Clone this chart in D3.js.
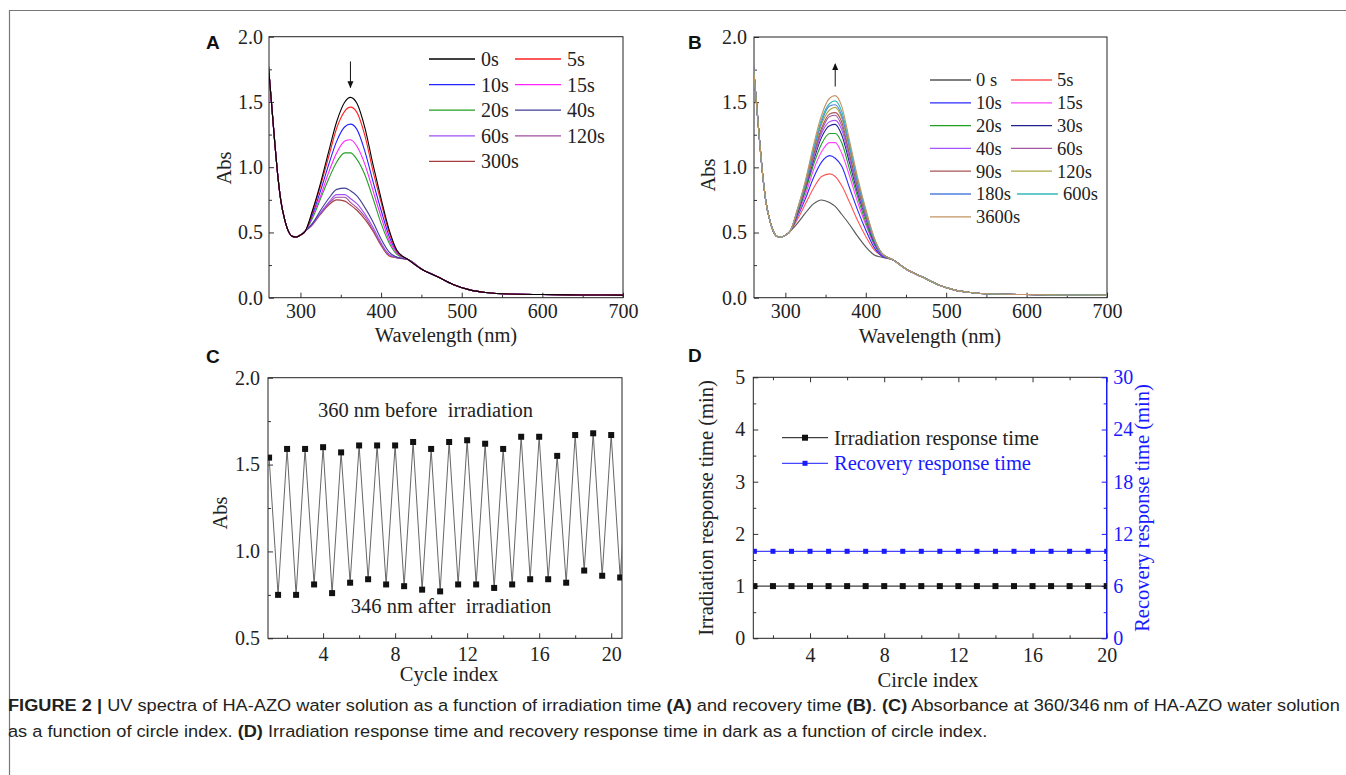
<!DOCTYPE html>
<html>
<head>
<meta charset="utf-8">
<script src="https://cdn.jsdelivr.net/npm/d3@7"></script>
<style>
body { margin: 0; background: #fff; }
svg { display: block; }
svg text { font-family: 'Liberation Serif', 'Times New Roman', serif; }
svg text.sans { font-family: 'Liberation Sans', Arial, sans-serif; }
</style>
</head>
<body>
<script>
// ---- data ----

// UV spectra: below 306 nm and above 434 nm all the curves sit on top of each other
var waveEdge = [260, 264, 268, 272, 276, 280, 285, 290, 295, 300, 306];
var absEdge  = [1.80, 1.50, 1.20, 0.93, 0.73, 0.61, 0.51, 0.47, 0.465, 0.48, 0.51];
var waveMid  = [315, 325, 335, 345, 355, 362, 370, 380, 390, 400, 410, 420];
var waveTail = [434, 450, 470, 490, 510, 530, 560, 600, 650, 700];
var absTail  = [0.29, 0.22, 0.16, 0.10, 0.06, 0.04, 0.028, 0.024, 0.021, 0.02];

// (A) irradiation
var irrLabels = ["0s", "5s", "10s", "15s", "20s", "40s", "60s", "120s", "300s"];
var irrColors = ["#000000", "#ff2020", "#2323ff", "#ff22ff", "#22a022", "#3f3f96", "#a050f5", "#a04ca0", "#a33c3c"];
var irrAbs = [
    [0.67, 0.88, 1.12, 1.35, 1.50, 1.535, 1.49, 1.30, 1.02, 0.76, 0.52, 0.36],
    [0.66, 0.86, 1.08, 1.30, 1.43, 1.46, 1.42, 1.24, 0.97, 0.73, 0.50, 0.355],
    [0.64, 0.82, 1.02, 1.20, 1.31, 1.33, 1.29, 1.12, 0.89, 0.67, 0.47, 0.35],
    [0.63, 0.78, 0.96, 1.11, 1.20, 1.21, 1.16, 1.02, 0.82, 0.62, 0.44, 0.34],
    [0.61, 0.76, 0.91, 1.04, 1.11, 1.11, 1.06, 0.94, 0.76, 0.57, 0.42, 0.33],
    [0.57, 0.67, 0.76, 0.83, 0.84, 0.82, 0.78, 0.69, 0.58, 0.45, 0.35, 0.31],
    [0.57, 0.65, 0.73, 0.79, 0.79, 0.76, 0.72, 0.64, 0.54, 0.42, 0.33, 0.31],
    [0.56, 0.65, 0.72, 0.77, 0.77, 0.73, 0.69, 0.62, 0.52, 0.41, 0.33, 0.305],
    [0.56, 0.64, 0.71, 0.75, 0.74, 0.71, 0.67, 0.60, 0.51, 0.40, 0.32, 0.305]
];

// (B) recovery
var recLabels = ["0 s", "5s", "10s", "15s", "20s", "30s", "40s", "60s", "90s", "120s", "180s", "600s", "3600s"];
var recColors = ["#555555", "#ff5555", "#2a2aff", "#ff44ff", "#22a022", "#222290", "#a555ff", "#a455a4", "#a85555",
                 "#a8a845", "#4f80df", "#33b8b8", "#c49462"];
var recAbs = [
    [0.57, 0.65, 0.72, 0.75, 0.73, 0.70, 0.64, 0.56, 0.47, 0.39, 0.33, 0.31],
    [0.60, 0.72, 0.84, 0.93, 0.95, 0.93, 0.86, 0.73, 0.59, 0.47, 0.37, 0.32],
    [0.62, 0.76, 0.92, 1.04, 1.09, 1.07, 1.01, 0.84, 0.67, 0.52, 0.39, 0.32],
    [0.63, 0.79, 0.98, 1.12, 1.19, 1.19, 1.11, 0.93, 0.73, 0.56, 0.41, 0.33],
    [0.64, 0.82, 1.02, 1.18, 1.26, 1.26, 1.19, 0.98, 0.77, 0.58, 0.42, 0.33],
    [0.65, 0.84, 1.05, 1.23, 1.32, 1.33, 1.25, 1.03, 0.80, 0.61, 0.43, 0.33],
    [0.66, 0.85, 1.07, 1.26, 1.35, 1.36, 1.29, 1.06, 0.82, 0.62, 0.44, 0.33],
    [0.66, 0.86, 1.09, 1.28, 1.39, 1.40, 1.32, 1.09, 0.84, 0.63, 0.45, 0.34],
    [0.66, 0.86, 1.10, 1.30, 1.41, 1.42, 1.35, 1.10, 0.85, 0.64, 0.45, 0.34],
    [0.67, 0.87, 1.12, 1.33, 1.44, 1.46, 1.38, 1.13, 0.87, 0.65, 0.46, 0.34],
    [0.67, 0.88, 1.13, 1.35, 1.47, 1.48, 1.40, 1.15, 0.88, 0.66, 0.46, 0.34],
    [0.68, 0.89, 1.15, 1.37, 1.49, 1.51, 1.43, 1.17, 0.90, 0.67, 0.46, 0.34],
    [0.68, 0.90, 1.17, 1.40, 1.53, 1.55, 1.47, 1.20, 0.92, 0.68, 0.47, 0.34]
];

// (C) absorbance per cycle: 360 nm before (at n) and 346 nm after irradiation (at n + 0.5)
// the 21st high value is only seen as the line leaving the frame
var cycleHigh = [1.54, 1.59, 1.59, 1.60, 1.57, 1.61, 1.61, 1.61, 1.63, 1.59,
                 1.63, 1.64, 1.62, 1.59, 1.66, 1.66, 1.55, 1.67, 1.68, 1.67, 1.66];
var cycleLow  = [0.75, 0.75, 0.81, 0.76, 0.82, 0.84, 0.81, 0.80, 0.78, 0.77,
                 0.81, 0.81, 0.79, 0.81, 0.84, 0.84, 0.82, 0.89, 0.86, 0.85];

// (D) response times
var circleIdx = [1, 2, 3, 4, 5, 6, 7, 8, 9, 10, 11, 12, 13, 14, 15, 16, 17, 18, 19, 20];
var irrMin = [1, 1, 1, 1, 1, 1, 1, 1, 1, 1, 1, 1, 1, 1, 1, 1, 1, 1, 1, 1];
var recMin = [10, 10, 10, 10, 10, 10, 10, 10, 10, 10, 10, 10, 10, 10, 10, 10, 10, 10, 10, 10];

// ---- drawing ----
var serif = "'Liberation Serif', 'Times New Roman', serif";
var blue = "#1a1aff";
var fs = 20;   // size of most of the figure text

var svg = d3.select("body").append("svg")
    .attr("width", 1346)
    .attr("height", 775)
    .attr("font-family", serif);

svg.append("rect").attr("width", 1346).attr("height", 775).attr("fill", "#fff");
svg.append("path")
    .attr("d", "M9.5,800V10.5H1400")
    .attr("fill", "none")
    .attr("stroke", "#777")
    .attr("stroke-width", 1.2);

function styleAxis(g, color) {
    g.select(".domain").remove();
    g.attr("font-family", serif).attr("font-size", fs);
    g.selectAll(".tick line").attr("stroke", color || "#333");
    g.selectAll(".tick text")
        .attr("fill", color || "#222")
        .style("font-family", serif)
        .style("font-size", fs + "px");
}

// frame + inward Origin-style ticks
function drawAxes(g, x, y, o) {
    var bottom = y.range()[0], top = y.range()[1];
    var left = x.range()[0], right = x.range()[1];

    g.append("g").attr("transform", "translate(0," + bottom + ")")
        .call(d3.axisBottom(x).tickValues(o.xMinor).tickSize(-3).tickSizeOuter(0).tickFormat(""))
        .call(styleAxis);
    g.append("g").attr("transform", "translate(0," + bottom + ")")
        .call(d3.axisBottom(x).tickValues(o.xMajor).tickSize(-5).tickSizeOuter(0).tickPadding(o.xPad)
            .tickFormat(d3.format("d")))
        .call(styleAxis);
    g.append("g").attr("transform", "translate(" + left + ",0)")
        .call(d3.axisLeft(y).tickValues(o.yMinor).tickSize(-3).tickSizeOuter(0).tickFormat(""))
        .call(styleAxis);
    g.append("g").attr("transform", "translate(" + left + ",0)")
        .call(d3.axisLeft(y).tickValues(o.yMajor).tickSize(-5).tickSizeOuter(0).tickPadding(o.yPad)
            .tickFormat(d3.format(o.yFmt)))
        .call(styleAxis);

    if (o.topTicks) {
        g.append("g").attr("transform", "translate(0," + top + ")")
            .call(d3.axisTop(x).tickValues(o.xMinor).tickSize(-3).tickSizeOuter(0).tickFormat(""))
            .call(styleAxis);
        g.append("g").attr("transform", "translate(0," + top + ")")
            .call(d3.axisTop(x).tickValues(o.xMajor).tickSize(-5).tickSizeOuter(0).tickFormat(""))
            .call(styleAxis);
    }

    g.append("rect")
        .attr("x", left).attr("y", top)
        .attr("width", right - left).attr("height", bottom - top)
        .attr("fill", "none")
        .attr("stroke", "#222")
        .attr("stroke-width", 1);

    g.append("clipPath").attr("id", o.id)
        .append("rect")
        .attr("x", left).attr("y", top)
        .attr("width", right - left).attr("height", bottom - top);
}

function panelLabel(txt, x, y) {
    svg.append("text")
        .attr("class", "sans")
        .attr("x", x).attr("y", y)
        .attr("font-weight", "bold")
        .attr("font-size", 19)
        .attr("fill", "#111")
        .text(txt);
}

// for rotated titles (x, y) is the middle of the baseline
function axisTitle(txt, x, y, rotate, color) {
    var t = svg.append("text")
        .attr("font-size", 20.5)
        .attr("fill", color || "#222")
        .attr("text-anchor", "middle")
        .text(txt);
    if (rotate) {
        t.attr("transform", "translate(" + x + "," + y + ") rotate(-90)");
    } else {
        t.attr("x", x).attr("y", y);
    }
}

function spectrum(mid) {
    var pts = [];
    waveEdge.forEach(function(w, i) { pts.push([w, absEdge[i]]); });
    waveMid.forEach(function(w, i) { pts.push([w, mid[i]]); });
    waveTail.forEach(function(w, i) { pts.push([w, absTail[i]]); });
    return pts;
}

function arrowHead(g, x, y, dir) {
    // dir = 1 points down, -1 points up
    g.append("path")
        .attr("d", "M" + (x - 3) + "," + (y - dir * 7) + "L" + x + "," + y + "L" + (x + 3) + "," + (y - dir * 7) + "Z")
        .attr("fill", "#111");
}

// ---------- panel A ----------
var xA = d3.scaleLinear().domain([261, 700]).range([269, 623]);
var yA = d3.scaleLinear().domain([0, 2]).range([297.7, 36.7]);
var gA = svg.append("g");
drawAxes(gA, xA, yA, {
    id: "clipA", xPad: 6.5, yPad: 6,
    xMajor: [300, 400, 500, 600, 700], xMinor: [350, 450, 550, 650],
    yMajor: [0, 0.5, 1, 1.5, 2], yMinor: [0.25, 0.75, 1.25, 1.75], yFmt: ".1f"
});

var lineA = d3.line()
    .x(function(d) { return xA(d[0]); })
    .y(function(d) { return yA(d[1]); })
    .curve(d3.curveMonotoneX);

gA.append("g").attr("clip-path", "url(#clipA)")
    .selectAll("path")
    .data(irrAbs.slice().reverse())
    .enter()
    .append("path")
    .attr("d", function(d) { return lineA(spectrum(d)); })
    .attr("fill", "none")
    .attr("stroke", function(d, i) { return irrColors[irrColors.length - 1 - i]; })
    .attr("stroke-width", 1.1);

// arrow at the 362 nm peak
gA.append("line")
    .attr("x1", xA(362)).attr("x2", xA(362))
    .attr("y1", yA(1.81)).attr("y2", yA(1.61))
    .attr("stroke", "#111").attr("stroke-width", 1);
arrowHead(gA, xA(362), yA(1.605), 1);

// legend A (two columns)
irrLabels.forEach(function(lab, i) {
    var col = i % 2, row = Math.floor(i / 2);
    var yy = 59 + row * 25.6;
    var x0 = col ? 515 : 429;
    gA.append("line")
        .attr("x1", x0).attr("x2", x0 + 46)
        .attr("y1", yy).attr("y2", yy)
        .attr("stroke", irrColors[i]).attr("stroke-width", 1.3);
    gA.append("text")
        .attr("x", x0 + 52).attr("y", yy).attr("dy", "0.35em")
        .attr("font-size", fs).attr("fill", "#222")
        .text(lab);
});

panelLabel("A", 206, 49);
axisTitle("Wavelength (nm)", 446, 342);
axisTitle("Abs", 231, 168, true);

// ---------- panel B ----------
var xB = d3.scaleLinear().domain([261, 700]).range([754, 1107]);
var yB = d3.scaleLinear().domain([0, 2]).range([297.7, 37]);
var gB = svg.append("g");
drawAxes(gB, xB, yB, {
    id: "clipB", xPad: 6.5, yPad: 7,
    xMajor: [300, 400, 500, 600, 700], xMinor: [350, 450, 550, 650],
    yMajor: [0, 0.5, 1, 1.5, 2], yMinor: [0.25, 0.75, 1.25, 1.75], yFmt: ".1f"
});

var lineB = d3.line()
    .x(function(d) { return xB(d[0]); })
    .y(function(d) { return yB(d[1]); })
    .curve(d3.curveMonotoneX);

gB.append("g").attr("clip-path", "url(#clipB)")
    .selectAll("path")
    .data(recAbs)
    .enter()
    .append("path")
    .attr("d", function(d) { return lineB(spectrum(d)); })
    .attr("fill", "none")
    .attr("stroke", function(d, i) { return recColors[i]; })
    .attr("stroke-width", 1.1);

gB.append("line")
    .attr("x1", xB(362)).attr("x2", xB(362))
    .attr("y1", yB(1.62)).attr("y2", yB(1.79))
    .attr("stroke", "#111").attr("stroke-width", 1);
arrowHead(gB, xB(362), yB(1.80), -1);

// legend B, the second column starts after the first column's text
recLabels.forEach(function(lab, i) {
    var row = Math.floor(i / 2);
    var yy = 80 + row * 22.8;
    var x0 = 930;
    if (i % 2) {
        var prev = gB.select(".legB-" + (i - 1));
        var end = 976 + prev.node().getComputedTextLength();
        x0 = Math.max(1011, end + 6);
    }
    gB.append("line")
        .attr("x1", x0).attr("x2", x0 + 41)
        .attr("y1", yy).attr("y2", yy)
        .attr("stroke", recColors[i]).attr("stroke-width", 1.3);
    gB.append("text")
        .attr("class", "legB-" + i)
        .attr("x", x0 + 46).attr("y", yy).attr("dy", "0.35em")
        .attr("font-size", 18.5).attr("fill", "#222")
        .style("white-space", "pre")
        .text(lab);
});

panelLabel("B", 688, 48.5);
axisTitle("Wavelength (nm)", 930, 343);
axisTitle("Abs", 715, 175, true);

// ---------- panel C ----------
var xC = d3.scaleLinear().domain([0.94, 20.6]).range([268, 622]);
var yC = d3.scaleLinear().domain([0.5, 2]).range([638.3, 377.7]);
var gC = svg.append("g");
drawAxes(gC, xC, yC, {
    id: "clipC", xPad: 8.5, yPad: 8,
    xMajor: [4, 8, 12, 16, 20], xMinor: [2, 6, 10, 14, 18],
    yMajor: [0.5, 1, 1.5, 2], yMinor: [0.75, 1.25, 1.75], yFmt: ".1f"
});

var cyclePts = [];
cycleHigh.forEach(function(v, i) {
    cyclePts.push({ x: i + 1, v: v });
    if (i < cycleLow.length) cyclePts.push({ x: i + 1.5, v: cycleLow[i] });
});

var plotC = gC.append("g").attr("clip-path", "url(#clipC)");
plotC.append("path")
    .datum(cyclePts)
    .attr("d", d3.line()
        .x(function(d) { return xC(d.x); })
        .y(function(d) { return yC(d.v); }))
    .attr("fill", "none")
    .attr("stroke", "#666")
    .attr("stroke-width", 1);
plotC.selectAll("rect.pt")
    .data(cyclePts)
    .enter()
    .append("rect")
    .attr("class", "pt")
    .attr("x", function(d) { return xC(d.x) - 3; })
    .attr("y", function(d) { return yC(d.v) - 3; })
    .attr("width", 6).attr("height", 6)
    .attr("fill", "#111");

gC.append("text")
    .attr("x", 425.5).attr("y", 417)
    .attr("font-size", 20.5).attr("fill", "#222")
    .attr("text-anchor", "middle")
    .style("white-space", "pre")
    .text("360 nm before  irradiation");
gC.append("text")
    .attr("x", 451).attr("y", 613)
    .attr("font-size", 20.5).attr("fill", "#222")
    .attr("text-anchor", "middle")
    .style("white-space", "pre")
    .text("346 nm after  irradiation");

panelLabel("C", 206, 362.5);
axisTitle("Cycle index", 449, 681);
axisTitle("Abs", 226.5, 513, true);

// ---------- panel D ----------
var xD = d3.scaleLinear().domain([0.94, 20]).range([753.3, 1106.7]);
var yD = d3.scaleLinear().domain([0, 5]).range([638.3, 377.3]);
var yD2 = d3.scaleLinear().domain([0, 30]).range([638.3, 377.3]);
var gD = svg.append("g");
drawAxes(gD, xD, yD, {
    id: "clipD", topTicks: true, xPad: 10, yPad: 8,
    xMajor: [4, 8, 12, 16, 20], xMinor: [2, 6, 10, 14, 18],
    yMajor: [0, 1, 2, 3, 4, 5], yMinor: [0.5, 1.5, 2.5, 3.5, 4.5], yFmt: "d"
});

// right axis in blue
gD.append("g").attr("transform", "translate(" + xD.range()[1] + ",0)")
    .call(d3.axisRight(yD2).tickValues([3, 9, 15, 21, 27]).tickSize(-3).tickSizeOuter(0).tickFormat(""))
    .call(styleAxis, blue);
gD.append("g").attr("transform", "translate(" + xD.range()[1] + ",0)")
    .call(d3.axisRight(yD2).tickValues([0, 6, 12, 18, 24, 30]).tickSize(-5).tickSizeOuter(0).tickPadding(6.5))
    .call(styleAxis, blue);
gD.append("line")
    .attr("x1", xD.range()[1]).attr("x2", xD.range()[1])
    .attr("y1", yD2.range()[0]).attr("y2", yD2.range()[1])
    .attr("stroke", blue).attr("stroke-width", 1.3);

var plotD = gD.append("g").attr("clip-path", "url(#clipD)");
var lineIrr = d3.line()
    .x(function(d, i) { return xD(circleIdx[i]); })
    .y(function(d) { return yD(d); });
var lineRec = d3.line()
    .x(function(d, i) { return xD(circleIdx[i]); })
    .y(function(d) { return yD2(d); });

plotD.append("path").datum(recMin).attr("d", lineRec)
    .attr("fill", "none").attr("stroke", blue).attr("stroke-width", 1);
plotD.selectAll("rect.rec")
    .data(recMin).enter().append("rect").attr("class", "rec")
    .attr("x", function(d, i) { return xD(circleIdx[i]) - 2.5; })
    .attr("y", function(d) { return yD2(d) - 2.5; })
    .attr("width", 5).attr("height", 5)
    .attr("fill", blue);

plotD.append("path").datum(irrMin).attr("d", lineIrr)
    .attr("fill", "none").attr("stroke", "#111").attr("stroke-width", 1);
plotD.selectAll("rect.irr")
    .data(irrMin).enter().append("rect").attr("class", "irr")
    .attr("x", function(d, i) { return xD(circleIdx[i]) - 3; })
    .attr("y", function(d) { return yD(d) - 3; })
    .attr("width", 6).attr("height", 6)
    .attr("fill", "#111");

// legend D
var legD = [
    { label: "Irradiation response time", color: "#111", size: 6 },
    { label: "Recovery response time", color: blue, size: 5 }
];
legD.forEach(function(d, i) {
    var yy = 437.7 + i * 25.6;
    gD.append("line")
        .attr("x1", 782).attr("x2", 828)
        .attr("y1", yy).attr("y2", yy)
        .attr("stroke", d.color).attr("stroke-width", 1);
    gD.append("rect")
        .attr("x", 805 - d.size / 2).attr("y", yy - d.size / 2)
        .attr("width", d.size).attr("height", d.size)
        .attr("fill", d.color);
    gD.append("text")
        .attr("x", 834).attr("y", yy).attr("dy", "0.35em")
        .attr("font-size", 20.5).attr("fill", d.color === "#111" ? "#222" : blue)
        .text(d.label);
});

panelLabel("D", 688, 361.5);
axisTitle("Circle index", 928, 687);
axisTitle("Irradiation response time (min)", 713, 508, true);
axisTitle("Recovery response time (min)", 1149, 508, true, blue);

// ---------- caption ----------
var capLines = [
    [["FIGURE 2 |", true], [" UV spectra of HA-AZO water solution as a function of irradiation time ", false],
     ["(A)", true], [" and recovery time ", false], ["(B)", true], [". ", false], ["(C)", true],
     [" Absorbance at 360/346\u2009nm of HA-AZO water solution", false]],
    [["as a function of circle index. ", false], ["(D)", true],
     [" Irradiation response time and recovery response time in dark as a function of circle index.", false]]
];
var capY = [711, 737];
var capTexts = capLines.map(function(parts, k) {
    var t = svg.append("text")
        .attr("class", "sans")
        .attr("font-size", 17)
        .attr("fill", "#231f20")
        .style("white-space", "pre");
    parts.forEach(function(p) {
        t.append("tspan").attr("font-weight", p[1] ? "bold" : "normal").text(p[0]);
    });
    return t;
});
// the caption face is a condensed sans; squeeze it to the printed width
var sx = 1332 / capTexts[0].node().getComputedTextLength();
capTexts.forEach(function(t, k) {
    t.attr("transform", "translate(8," + capY[k] + ") scale(" + sx + ",1)");
});
</script>
</body>
</html>
